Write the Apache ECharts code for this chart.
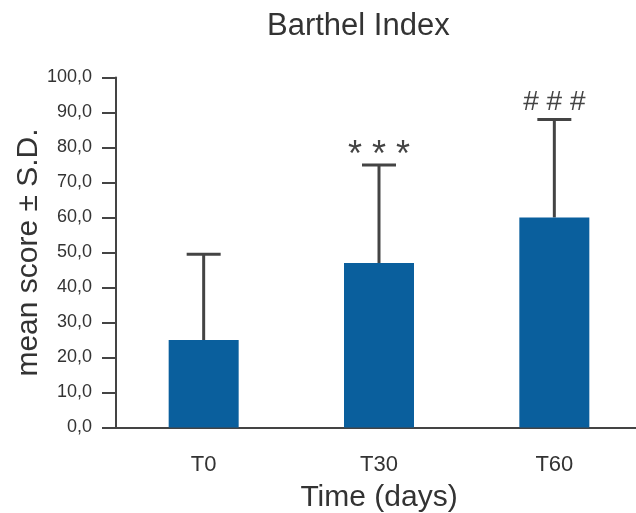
<!DOCTYPE html>
<html>
<head>
<meta charset="utf-8">
<script src="https://cdn.jsdelivr.net/npm/echarts@6/dist/echarts.min.js"></script>
<style>
  html, body { margin: 0; padding: 0; background: #fff; }
  #chart { width: 636px; height: 513px; }
</style>
</head>
<body>
<div id="chart"></div>
<script>
const categories = ['T0', 'T30', 'T60'];
const meanScores = [25, 47, 60];
const sdUpper = [49.5, 75, 88];
const significance = ['', '* * *', '# # #'];

const ink = '#444444';
const barBlue = '#0a5f9d';
const fontFamily = '"Liberation Sans", Arial, sans-serif';

const chart = echarts.init(document.getElementById('chart'));

chart.setOption({
  animation: false,
  title: {
    text: 'Barthel Index',
    left: 262,
    top: 6,
    textStyle: { color: '#333', fontSize: 31, fontWeight: 'normal', fontFamily }
  },
  grid: { left: 116, top: 77.5, width: 526, height: 350, outerBoundsMode: 'none', containLabel: false },
  xAxis: {
    type: 'category',
    data: categories,
    name: 'Time (days)',
    nameLocation: 'middle',
    nameGap: 55,
    nameTextStyle: { color: '#333', fontSize: 30, fontFamily },
    axisLine: { lineStyle: { color: ink, width: 2 } },
    axisTick: { alignWithLabel: true, length: 11, lineStyle: { color: ink, width: 2 } },
    axisLabel: { color: '#333', fontSize: 22, fontFamily, margin: 26 }
  },
  yAxis: {
    type: 'value',
    min: 0,
    max: 100,
    interval: 10,
    name: 'mean score ± S.D.',
    nameLocation: 'middle',
    nameGap: 72,
    nameMoveOverlap: false,
    nameTextStyle: { color: '#333', fontSize: 30, fontFamily },
    axisLine: { show: true, lineStyle: { color: ink, width: 2 } },
    axisTick: { show: true, length: 14, lineStyle: { color: ink, width: 2 } },
    axisLabel: {
      color: '#333', fontSize: 18, fontFamily, margin: 24,
      formatter: v => v.toFixed(1).replace('.', ',')
    },
    splitLine: { show: false }
  },
  series: [
    {
      type: 'bar',
      data: meanScores,
      barWidth: 70,
      itemStyle: { color: barBlue }
    },
    {
      type: 'custom',
      data: categories.map((c, i) => [i, meanScores[i], sdUpper[i]]),
      z: 1,
      renderItem: (params, api) => {
        const i = api.value(0);
        const base = api.coord([i, api.value(1)]);
        const top = api.coord([i, api.value(2)]);
        const capHalf = 17;
        const children = [
          { type: 'line', shape: { x1: top[0], y1: base[1], x2: top[0], y2: top[1] },
            style: { stroke: ink, lineWidth: 3 } },
          { type: 'line', shape: { x1: top[0] - capHalf, y1: top[1], x2: top[0] + capHalf, y2: top[1] },
            style: { stroke: ink, lineWidth: 3 } }
        ];
        const txt = significance[params.dataIndex];
        if (txt) {
          const stars = txt.indexOf('*') >= 0;
          children.push({
            type: 'text',
            x: top[0], y: top[1] - (stars ? 9 : 17),
            style: {
              text: txt, fill: ink, align: 'center', verticalAlign: 'middle',
              fontSize: stars ? 36 : 28, fontFamily
            }
          });
        }
        return { type: 'group', children };
      }
    }
  ]
});
</script>
</body>
</html>
